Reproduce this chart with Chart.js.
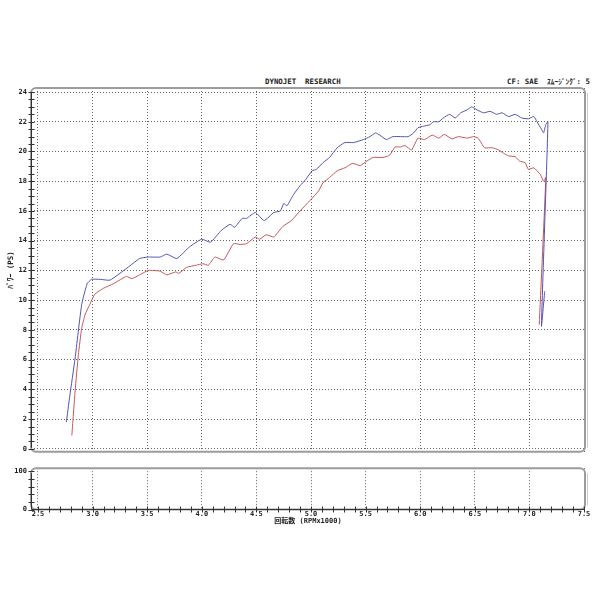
<!DOCTYPE html>
<html>
<head>
<meta charset="utf-8">
<title>DYNOJET RESEARCH</title>
<script src="https://cdn.jsdelivr.net/npm/chart.js"></script>
<style>
    body { margin: 0; background: #fff; }
    #wrap { position: relative; width: 600px; height: 600px; }
    #mainChart { position: absolute; left: 0; top: 0; }
    #subChart { position: absolute; left: 0; top: 460px; }
    .head {
        position: absolute;
        font-family: "DejaVu Sans Mono", "Noto Sans CJK JP", monospace;
        font-size: 7.4px;
        font-weight: bold;
        color: #222;
        white-space: pre;
    }
</style>
</head>
<body>
<div id="wrap">
    <div class="head" style="left:265px; top:77px;">DYNOJET  RESEARCH</div>
    <div class="head" style="left:507px; top:75px;">CF: SAE  ｽﾑｰｼﾞﾝｸﾞ: 5</div>
    <canvas id="mainChart" width="600" height="460"></canvas>
    <canvas id="subChart" width="600" height="140"></canvas>
</div>
<script>
// rpm (x1000) and power (PS)
const blueRpm = [2.76, 2.79, 2.84, 2.90, 2.95, 2.99, 3.07, 3.16, 3.34, 3.43, 3.51, 3.62, 3.68, 3.77, 3.89, 4.00,
    4.08, 4.18, 4.26, 4.30, 4.37, 4.41, 4.49, 4.57, 4.66, 4.72, 4.75, 4.78, 4.84, 4.90, 4.95, 5.01,
    5.05, 5.11, 5.17, 5.24, 5.31, 5.39, 5.48, 5.54, 5.59, 5.63, 5.69, 5.75, 5.82, 5.89, 5.94, 5.98,
    6.03, 6.09, 6.12, 6.17, 6.21, 6.27, 6.32, 6.37, 6.43, 6.47, 6.52, 6.58, 6.64, 6.70, 6.75, 6.81,
    6.87, 6.93, 6.99, 7.04, 7.07, 7.11, 7.13, 7.15, 7.17, 7.11, 7.14];
const bluePower = [1.8, 3.5, 6.1, 9.7, 11.1, 11.4, 11.4, 11.35, 12.3, 12.8, 12.9, 12.9, 13.1, 12.8, 13.6, 14.1,
    13.9, 14.7, 15.1, 14.9, 15.5, 15.5, 15.9, 15.35, 15.9, 16.0, 16.5, 16.35, 17.1, 17.7, 18.1, 18.7,
    18.8, 19.25, 19.6, 20.25, 20.6, 20.6, 20.8, 21.0, 21.25, 21.1, 20.8, 21.0, 21.0, 21.0, 21.25, 21.6,
    21.7, 21.8, 22.0, 22.0, 22.25, 22.5, 22.25, 22.6, 22.8, 23.0, 22.8, 22.6, 22.7, 22.5, 22.6, 22.35,
    22.5, 22.25, 22.2, 22.35, 22.0, 21.5, 21.25, 21.8, 22.0, 8.25, 10.6];

const redRpm = [2.81, 2.84, 2.87, 2.90, 2.93, 2.98, 3.02, 3.10, 3.19, 3.27, 3.31, 3.36, 3.43, 3.51, 3.62, 3.68,
    3.76, 3.79, 3.86, 3.95, 4.01, 4.06, 4.12, 4.20, 4.29, 4.35, 4.41, 4.49, 4.53, 4.59, 4.66, 4.74,
    4.82, 4.90, 4.99, 5.07, 5.11, 5.17, 5.24, 5.31, 5.38, 5.45, 5.51, 5.57, 5.66, 5.72, 5.77, 5.82,
    5.86, 5.92, 5.98, 6.04, 6.11, 6.17, 6.22, 6.29, 6.35, 6.43, 6.49, 6.53, 6.59, 6.66, 6.72, 6.76,
    6.81, 6.87, 6.91, 6.96, 6.99, 7.04, 7.10, 7.13, 7.15, 7.09];
const redPower = [0.9, 3.9, 6.35, 8.1, 9.0, 9.8, 10.4, 10.8, 11.1, 11.45, 11.6, 11.45, 11.7, 12.0, 11.95, 11.7,
    11.9, 11.8, 12.2, 12.35, 12.45, 12.35, 12.9, 12.7, 13.8, 13.75, 13.8, 14.25, 14.1, 14.4, 14.25, 14.95,
    15.35, 16.0, 16.7, 17.35, 17.9, 18.25, 18.7, 18.9, 19.2, 19.05, 19.35, 19.6, 19.6, 19.75, 20.3, 20.3,
    20.4, 20.1, 20.9, 20.8, 21.1, 20.9, 21.15, 20.85, 21.0, 20.9, 21.0, 20.9, 20.25, 20.25, 20.1, 19.9,
    19.7, 19.65, 19.35, 19.25, 18.8, 18.9, 18.45, 18.0, 18.25, 8.35];

// axis ticks
const xTicks = [2.5, 3.0, 3.5, 4.0, 4.5, 5.0, 5.5, 6.0, 6.5, 7.0, 7.5];
const yTicks = [0, 2, 4, 6, 8, 10, 12, 14, 16, 18, 20, 22, 24];
const subTicks = [0, 100];

const FONT = '"DejaVu Sans Mono", "Noto Sans CJK JP", monospace';
Chart.defaults.font.family = FONT;
Chart.defaults.color = '#222';

const xMinor = [];
for (let v = 25; v <= 75; v++) xMinor.push(v / 10);
const yMinor = [];
for (let v = 0; v <= 48; v++) yMinor.push(v / 2);

function line(ctx, x1, y1, x2, y2) {
    ctx.beginPath();
    ctx.moveTo(x1, y1);
    ctx.lineTo(x2, y2);
    ctx.stroke();
}

// rounded panel frame, dark axis lines and the small tick marks
const framePlugin = {
    id: 'frame',
    afterDraw(chart, args, o) {
        const ctx = chart.ctx;
        const a = chart.chartArea;
        const sx = chart.scales.x, sy = chart.scales.y;
        ctx.save();
        ctx.strokeStyle = '#9c9c9c';
        ctx.lineWidth = 2;
        ctx.beginPath();
        ctx.roundRect(a.left, a.top, a.right - a.left, a.bottom - a.top, 5);
        ctx.stroke();
        ctx.strokeStyle = '#cfcfcf';
        ctx.lineWidth = 1;
        line(ctx, a.right + 2.5, a.top + 5, a.right + 2.5, a.bottom - 4);

        ctx.strokeStyle = '#333';
        ctx.lineWidth = 1;
        const lx = Math.round(a.left) + 0.5;
        line(ctx, lx, a.top + 5, lx, o.xAxis ? a.bottom : a.bottom - 4);
        (o.yMinor || []).forEach(v => {
            const y = Math.round(sy.getPixelForValue(v)) + 0.5;
            line(ctx, lx - 3, y, lx + 3, y);
        });
        if (o.xAxis) {
            const by = Math.round(a.bottom) - 0.5;
            line(ctx, lx, by, a.right, by);
            xMinor.forEach(v => {
                const x = Math.round(sx.getPixelForValue(v)) + 0.5;
                line(ctx, x, by - 3, x, by + 3);
            });
        }
        ctx.restore();
    }
};

// v4 takes the grid line dash from border.dash
const dotted = { color: '#666', lineWidth: 1, drawTicks: false };
const noBorder = { display: false, dash: [1, 2] };

new Chart(document.getElementById('mainChart'), {
    type: 'line',
    data: {
        datasets: [{
            data: blueRpm.map((r, i) => ({ x: r, y: bluePower[i] })),
            borderColor: '#5252b4',
            borderWidth: 1,
            pointRadius: 0,
            tension: 0.15
        }, {
            data: redRpm.map((r, i) => ({ x: r, y: redPower[i] })),
            borderColor: '#c45656',
            borderWidth: 1,
            pointRadius: 0,
            tension: 0.15
        }]
    },
    options: {
        responsive: false,
        animation: false,
        devicePixelRatio: 1,
        layout: { padding: { left: 0, top: 88, right: 15, bottom: 5 } },
        plugins: {
            legend: { display: false },
            tooltip: { enabled: false },
            frame: { yMinor: yMinor, xAxis: false }
        },
        scales: {
            x: {
                type: 'linear',
                min: 2.436,
                max: 7.509,
                grid: dotted,
                border: noBorder,
                ticks: { display: false },
                afterBuildTicks: s => { s.ticks = xTicks.map(v => ({ value: v })); },
                afterFit: s => { s.height = 0; }
            },
            y: {
                min: -0.2,
                max: 24.27,
                grid: dotted,
                border: noBorder,
                ticks: { padding: 4, font: { size: 7, weight: 'bold' } },
                afterBuildTicks: s => { s.ticks = yTicks.map(v => ({ value: v })); },
                afterFit: s => { s.width = 31; },
                title: {
                    display: true,
                    text: 'ﾊﾟﾜｰ (PS)',
                    font: { size: 7.5, weight: 'bold' },
                    padding: { top: 7 }
                }
            }
        }
    },
    plugins: [framePlugin]
});

new Chart(document.getElementById('subChart'), {
    type: 'line',
    data: { datasets: [] },
    options: {
        responsive: false,
        animation: false,
        devicePixelRatio: 1,
        layout: { padding: { left: 0, top: 3.5, right: 15, bottom: 70 } },
        plugins: {
            legend: { display: false },
            tooltip: { enabled: false },
            frame: { yMinor: [0, 20, 40, 60, 80, 100], xAxis: true }
        },
        scales: {
            x: {
                type: 'linear',
                min: 2.436,
                max: 7.509,
                grid: dotted,
                border: noBorder,
                ticks: { padding: 0, font: { size: 7, weight: 'bold' }, callback: v => v.toFixed(1) },
                afterBuildTicks: s => { s.ticks = xTicks.map(v => ({ value: v })); },
                afterFit: s => { s.height = 20.5; },
                title: {
                    display: true,
                    text: '回転数 (RPMx1000)',
                    font: { size: 7, weight: 'bold' },
                    padding: { top: 0, bottom: 5 }
                }
            },
            y: {
                min: 0,
                max: 108.2,
                grid: { display: false, drawTicks: false },
                border: { display: false },
                ticks: { padding: 4, font: { size: 7, weight: 'bold' } },
                afterBuildTicks: s => { s.ticks = subTicks.map(v => ({ value: v })); },
                afterFit: s => { s.width = 31; }
            }
        }
    },
    plugins: [framePlugin]
});
</script>
</body>
</html>
